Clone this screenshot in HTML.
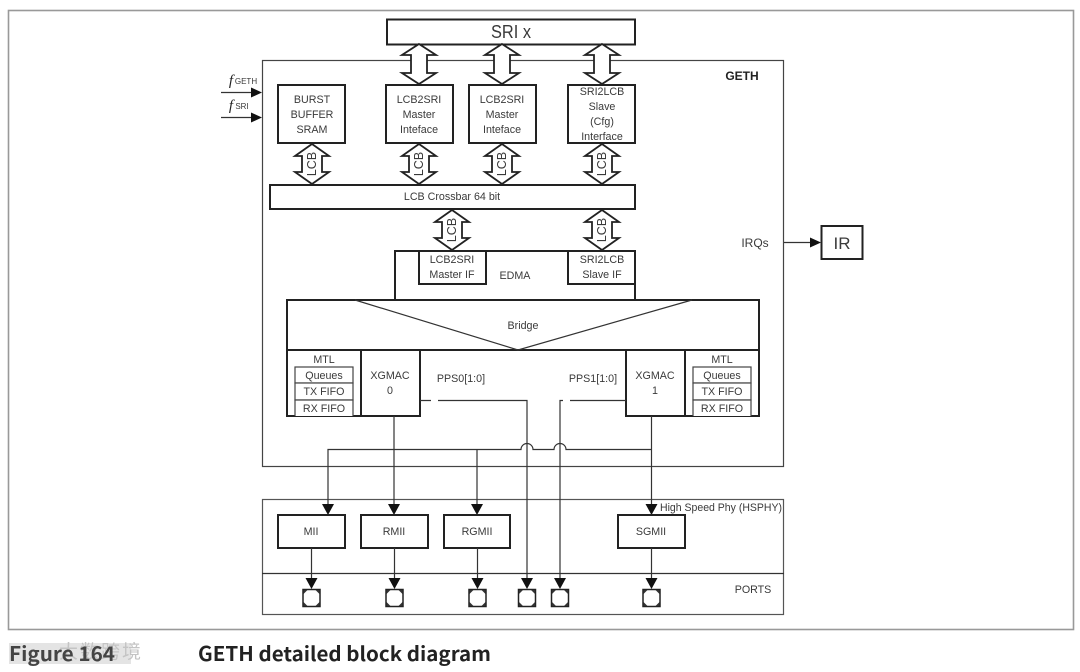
<!DOCTYPE html>
<html><head><meta charset="utf-8"><style>
html,body{margin:0;padding:0;background:#fff}
svg{display:block;filter:blur(.3px)}
text{font-family:"Liberation Sans","Noto Sans CJK SC",sans-serif;font-size:10.7px;fill:#3a3a3a;text-anchor:middle}
.b{fill:#fff;stroke:#222;stroke-width:2}
.t{fill:#fff;stroke:#444;stroke-width:1.2}
.l{fill:none;stroke:#333;stroke-width:1.2}
.da{fill:#fff;stroke:#222;stroke-width:1.8;stroke-linejoin:miter}
.h{fill:#111;stroke:none}
.lc{font-size:12.500px}
.cap{font-family:"Noto Sans CJK SC","Liberation Sans",sans-serif;font-weight:700;font-size:20px;fill:#222;text-anchor:start}
</style></head><body>
<svg width="1080" height="672" viewBox="0 0 1080 672" xmlns="http://www.w3.org/2000/svg">
<defs>
<path id="arrow" d="M0 0L-6 -11L6 -11Z" class="h"/>
<g id="port"><rect x="-8.500" y="-8.500" width="17" height="17" fill="#fff" stroke="#222" stroke-width="1.500"/><path d="M-8 -8H-4L-8 -4ZM8 -8H4L8 -4ZM-8 8H-4L-8 4ZM8 8H4L8 4Z" fill="#333"/></g>
</defs>
<rect x="8.500" y="10.500" width="1065" height="619" fill="#fff" stroke="#999" stroke-width="1.6"/>
<rect x="262.500" y="60.500" width="521" height="406" fill="#fff" stroke="#444" stroke-width="1.2"/>
<rect x="262.500" y="499.500" width="521" height="115" fill="#fff" stroke="#555" stroke-width="1.2"/>
<line x1="262" y1="573.500" x2="784" y2="573.500" stroke="#333" stroke-width="1.2"/>

<!-- SRI -->
<rect class="b" x="387" y="19.500" width="248" height="25"/>
<text x="511" y="38" style="font-size:18px" textLength="40" lengthAdjust="spacingAndGlyphs">SRI x</text>

<!-- large double arrows -->
<path class="da" d="M419 44L436 55L427 55L427 73L436 73L419 84L402 73L411 73L411 55L402 55Z"/>
<path class="da" d="M502 44L519 55L510 55L510 73L519 73L502 84L485 73L494 73L494 55L485 55Z"/>
<path class="da" d="M602 44L619 55L610 55L610 73L619 73L602 84L585 73L594 73L594 55L585 55Z"/>

<text x="742" y="80" style="font-weight:700;font-size:12px;fill:#222">GETH</text>

<!-- clocks -->
<line class="l" x1="221" y1="92.500" x2="252" y2="92.500"/><path class="h" d="M262 92.500L251 87.500L251 97.500Z"/>
<line class="l" x1="221" y1="117.500" x2="252" y2="117.500"/><path class="h" d="M262 117.500L251 112.500L251 122.500Z"/>
<text x="231" y="85" style="font-family:'Liberation Serif',serif;font-style:italic;font-size:15px;fill:#222">f</text>
<text x="246" y="84" style="font-size:8px">GETH</text>
<text x="231" y="110" style="font-family:'Liberation Serif',serif;font-style:italic;font-size:15px;fill:#222">f</text>
<text x="242" y="109" style="font-size:8px">SRI</text>

<!-- top boxes -->
<rect class="b" x="278" y="85" width="67" height="58"/>
<text x="312" y="103">BURST</text><text x="312" y="118">BUFFER</text><text x="312" y="133">SRAM</text>
<rect class="b" x="386" y="85" width="67" height="58"/>
<text x="419" y="103">LCB2SRI</text><text x="419" y="118">Master</text><text x="419" y="133">Inteface</text>
<rect class="b" x="469" y="85" width="67" height="58"/>
<text x="502" y="103">LCB2SRI</text><text x="502" y="118">Master</text><text x="502" y="133">Inteface</text>
<rect class="b" x="568" y="85" width="67" height="58"/>
<text x="602" y="95">SRI2LCB</text><text x="602" y="110">Slave</text><text x="602" y="125">(Cfg)</text><text x="602" y="140">Interface</text>

<!-- LCB arrows -->
<path class="da" d="M312 144L329 156L322 156L322 172L329 172L312 184L295 172L302 172L302 156L295 156Z"/><text class="lc" transform="translate(316 164) rotate(-90)">LCB</text>
<path class="da" d="M419 144L436 156L429 156L429 172L436 172L419 184L402 172L409 172L409 156L402 156Z"/><text class="lc" transform="translate(423 164) rotate(-90)">LCB</text>
<path class="da" d="M502 144L519 156L512 156L512 172L519 172L502 184L485 172L492 172L492 156L485 156Z"/><text class="lc" transform="translate(506 164) rotate(-90)">LCB</text>
<path class="da" d="M602 144L619 156L612 156L612 172L619 172L602 184L585 172L592 172L592 156L585 156Z"/><text class="lc" transform="translate(606 164) rotate(-90)">LCB</text>

<rect class="b" x="270" y="185" width="365" height="24"/>
<text x="452" y="200">LCB Crossbar 64 bit</text>

<path class="da" d="M452 210L469 222L462 222L462 238L469 238L452 250L435 238L442 238L442 222L435 222Z"/><text class="lc" transform="translate(456 230) rotate(-90)">LCB</text>
<path class="da" d="M602 210L619 222L612 222L612 238L619 238L602 250L585 238L592 238L592 222L585 222Z"/><text class="lc" transform="translate(606 230) rotate(-90)">LCB</text>

<!-- EDMA -->
<rect class="b" x="395" y="251" width="240" height="49"/>
<rect class="b" x="419" y="251" width="67" height="33"/>
<rect class="b" x="568" y="251" width="67" height="33"/>
<text x="452" y="263">LCB2SRI</text><text x="452" y="278">Master IF</text>
<text x="602" y="263">SRI2LCB</text><text x="602" y="278">Slave IF</text>
<text x="515" y="279">EDMA</text>

<!-- Bridge -->
<rect class="b" x="287" y="300" width="472" height="50"/>
<path class="l" d="M355 300L518 350L692 300"/>
<text x="523" y="329">Bridge</text>

<!-- MTL / XGMAC left -->
<rect class="b" x="287" y="350" width="74" height="66"/>
<rect class="b" x="361" y="350" width="59" height="66"/>
<text x="324" y="363">MTL</text>
<rect class="t" x="295" y="367" width="58" height="16"/><rect class="t" x="295" y="383" width="58" height="17"/><path class="t" d="M295 416V400H353V416"/>
<text x="324" y="379">Queues</text><text x="324" y="395">TX FIFO</text><text x="324" y="412">RX FIFO</text>
<text x="390" y="379">XGMAC</text><text x="390" y="394">0</text>

<!-- MTL / XGMAC right -->
<rect class="b" x="685" y="350" width="74" height="66"/>
<rect class="b" x="626" y="350" width="59" height="66"/>
<text x="722" y="363">MTL</text>
<rect class="t" x="693" y="367" width="58" height="16"/><rect class="t" x="693" y="383" width="58" height="17"/><path class="t" d="M693 416V400H751V416"/>
<text x="722" y="379">Queues</text><text x="722" y="395">TX FIFO</text><text x="722" y="412">RX FIFO</text>
<text x="655" y="379">XGMAC</text><text x="655" y="394">1</text>

<text x="461" y="382">PPS0[1:0]</text>
<text x="593" y="382">PPS1[1:0]</text>

<!-- PPS lines -->
<path class="l" d="M420 400.500H431M438 400.500H527V580"/>
<path class="l" d="M626 400.500H570M563 400.500H560V580"/>

<!-- bus -->
<path class="l" d="M328 505V449.500H521A6 6 0 0 1 533 449.500H554A6 6 0 0 1 566 449.500H651"/>
<line class="l" x1="394" y1="416" x2="394" y2="505"/>
<line class="l" x1="477" y1="449" x2="477" y2="505"/>
<line class="l" x1="651.500" y1="416" x2="651.500" y2="505"/>
<use href="#arrow" x="328" y="515"/><use href="#arrow" x="394" y="515"/><use href="#arrow" x="477" y="515"/><use href="#arrow" x="651.500" y="515"/>
<text x="721" y="511" textLength="122" lengthAdjust="spacingAndGlyphs">High Speed Phy (HSPHY)</text>

<!-- phy boxes -->
<rect class="b" x="278" y="515" width="67" height="33"/><text x="311" y="535">MII</text>
<rect class="b" x="361" y="515" width="67" height="33"/><text x="394" y="535">RMII</text>
<rect class="b" x="444" y="515" width="66" height="33"/><text x="477" y="535">RGMII</text>
<rect class="b" x="618" y="515" width="67" height="33"/><text x="651" y="535">SGMII</text>

<line class="l" x1="311.500" y1="548" x2="311.500" y2="580"/>
<line class="l" x1="394.500" y1="548" x2="394.500" y2="580"/>
<line class="l" x1="477.500" y1="548" x2="477.500" y2="580"/>
<line class="l" x1="651.500" y1="548" x2="651.500" y2="580"/>
<use href="#arrow" x="311.500" y="589"/><use href="#arrow" x="394.500" y="589"/><use href="#arrow" x="477.500" y="589"/><use href="#arrow" x="527" y="589"/><use href="#arrow" x="560" y="589"/><use href="#arrow" x="651.500" y="589"/>
<use href="#port" x="311.500" y="598"/><use href="#port" x="394.500" y="598"/><use href="#port" x="477.500" y="598"/><use href="#port" x="527" y="598"/><use href="#port" x="560" y="598"/><use href="#port" x="651.500" y="598"/>
<text x="753" y="593">PORTS</text>

<!-- IRQ -->
<text x="755" y="247" style="font-size:12px">IRQs</text>
<line class="l" x1="784" y1="242.500" x2="812" y2="242.500"/><path class="h" d="M821 242.500L810 237.500L810 247.500Z"/>
<rect class="b" x="821.500" y="226" width="41" height="33"/>
<text x="842" y="249" style="font-size:17px">IR</text>

<!-- caption -->
<rect x="9" y="643" width="122" height="21" fill="#e4e4e4"/>
<text x="100" y="658" style="font-size:19px;fill:#c4c4c4;font-family:'Noto Sans CJK SC',sans-serif" textLength="82">大数跨境</text>
<text class="cap" x="9" y="661" textLength="106" lengthAdjust="spacingAndGlyphs" style="fill:#444">Figure 164</text>
<text class="cap" x="198" y="661" textLength="293" lengthAdjust="spacingAndGlyphs">GETH detailed block diagram</text>
</svg>
</body></html>
